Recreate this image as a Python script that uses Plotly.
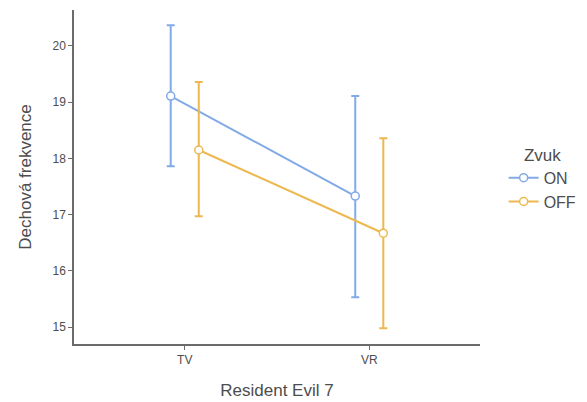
import plotly.graph_objects as go

categories = ["TV", "VR"]
groups = ["ON", "OFF"]
means = {"ON": [19.11, 17.33], "OFF": [18.15, 16.67]}
upper = {"ON": [20.37, 19.11], "OFF": [19.36, 18.36]}
lower = {"ON": [17.86, 15.53], "OFF": [16.97, 14.98]}
colors = {"ON": "#82AAE6", "OFF": "#EDB84F"}
dodge = {"ON": -0.076, "OFF": 0.076}

fig = go.Figure()
for g in groups:
    xs = [i + dodge[g] for i in range(len(categories))]
    m = means[g]
    fig.add_trace(go.Scatter(
        x=xs, y=m, name=g, mode="lines+markers",
        line=dict(color=colors[g], width=2),
        marker=dict(symbol="circle", size=8, color="white",
                    line=dict(color=colors[g], width=1.5)),
        error_y=dict(type="data", symmetric=False,
                     array=[u - v for u, v in zip(upper[g], m)],
                     arrayminus=[v - l for v, l in zip(m, lower[g])],
                     color=colors[g], thickness=2, width=4),
    ))

axis_font = dict(family="Liberation Sans, Arial, sans-serif", size=12, color="#4d4d4d")
fig.update_layout(
    width=587, height=402,
    margin=dict(l=74, r=107, t=10, b=58, autoexpand=False),
    plot_bgcolor="white", paper_bgcolor="white",
    font=dict(family="Liberation Sans, Arial, sans-serif", color="#4d4d4d"),
    xaxis=dict(range=[-0.6, 1.6], tickmode="array", tickvals=[0, 1], ticktext=categories,
               showline=True, linecolor="#6b6b6b", linewidth=1.5, ticks="outside",
               ticklen=4, tickcolor="#6b6b6b", showgrid=False, zeroline=False,
               tickfont=axis_font, automargin=False,
               title=dict(text="Resident Evil 7", font=dict(size=17, color="#4d4d4d"), standoff=18)),
    yaxis=dict(range=[14.70, 20.64], tickvals=[15, 16, 17, 18, 19, 20],
               showline=True, linecolor="#6b6b6b", linewidth=1.5, ticks="outside",
               ticklen=4, tickcolor="#6b6b6b", showgrid=False, zeroline=False,
               tickfont=axis_font, automargin=False,
               title=dict(text="Dechová frekvence", font=dict(size=17, color="#4d4d4d"), standoff=17)),
    legend=dict(title=dict(text="Zvuk", font=dict(size=17, color="#4d4d4d"), side="top center"),
                font=dict(size=16, color="#4d4d4d"),
                xref="container", yref="container",
                x=0.858, y=0.655, xanchor="left", yanchor="top",
                itemwidth=30, bgcolor="rgba(0,0,0,0)"),
)

fig.write_html("out.html")
